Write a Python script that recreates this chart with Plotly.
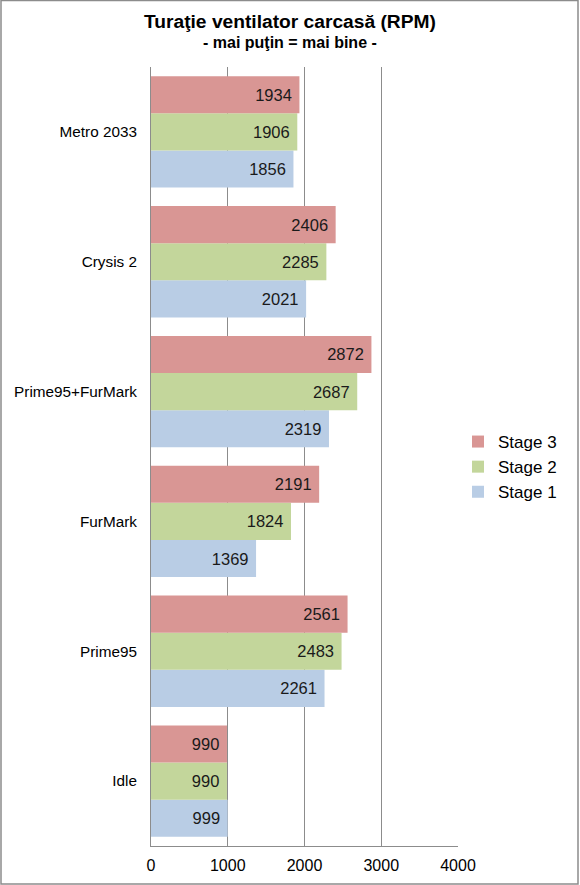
import plotly.graph_objects as go

# categories listed bottom -> top (plotly draws the first category at the bottom)
categories = ["Idle", "Prime95", "FurMark", "Prime95+FurMark", "Crysis 2", "Metro 2033"]
stage1 = [999, 2261, 1369, 2319, 2021, 1856]
stage2 = [990, 2483, 1824, 2687, 2285, 1906]
stage3 = [990, 2561, 2191, 2872, 2406, 1934]
x_ticks = [0, 1000, 2000, 3000, 4000]

FONT = "Liberation Sans, Arial, sans-serif"
W, H = 580, 885
L, R, T, B = 151, 122, 67, 39

series = [
    ("Stage 1", stage1, "#B9CDE5"),
    ("Stage 2", stage2, "#C3D69B"),
    ("Stage 3", stage3, "#D99694"),
]

fig = go.Figure()
for name, vals, color in series:
    fig.add_trace(go.Bar(
        name=name, y=categories, x=vals, orientation="h",
        marker=dict(color=color, line=dict(width=0)),
        texttemplate="%{x}\u00a0", textposition="inside",
        insidetextanchor="end", textangle=0,
        textfont=dict(family=FONT, size=16.5, color="#1a1a1a"),
        cliponaxis=False,
    ))

pw = W - L - R
ph = H - T - B


def py(px_from_top):
    # pixel row (from top of figure) -> paper y
    return (H - B - px_from_top) / ph


fig.update_layout(
    width=W, height=H,
    margin=dict(l=L, r=R, t=T, b=B, autoexpand=False),
    paper_bgcolor="white", plot_bgcolor="white",
    barmode="group", bargap=0.143, bargroupgap=0,
    font=dict(family=FONT, size=15, color="#000000"),
    legend=dict(
        traceorder="reversed", x=1.0, xanchor="left", y=py(467), yanchor="middle",
        font=dict(family=FONT, size=17, color="#000000"),
        itemwidth=30, bgcolor="rgba(0,0,0,0)", tracegroupgap=0,
    ),
    xaxis=dict(
        range=[0, 4000], tickvals=x_ticks, showgrid=True, gridcolor="#8c8c8c",
        gridwidth=1, showline=True, linecolor="#8c8c8c", zeroline=False,
        ticks="", tickfont=dict(family=FONT, size=16), ticklabelstandoff=5,
        automargin=False,
    ),
    yaxis=dict(
        categoryorder="array", categoryarray=categories,
        showline=True, linecolor="#8c8c8c", ticks="", automargin=False,
        tickfont=dict(family=FONT, size=15.3), showgrid=False,
        ticklabelstandoff=10,
    ),
    annotations=[
        dict(text="<b>Turaţie ventilator carcasă (RPM)</b>", xref="paper", yref="paper",
             x=(W / 2 - L) / pw, y=py(21), xanchor="center", yanchor="middle",
             showarrow=False, font=dict(family=FONT, size=19.2, color="#000000")),
        dict(text="<b>- mai puţin = mai bine -</b>", xref="paper", yref="paper",
             x=(W / 2 - L) / pw, y=py(43), xanchor="center", yanchor="middle",
             showarrow=False, font=dict(family=FONT, size=16, color="#000000")),
    ],
    shapes=[dict(
        type="rect", xref="paper", yref="paper",
        x0=(1 - L) / pw, x1=(W - 2 - L) / pw,
        y0=-(B - 1) / ph, y1=(ph + T - 0.5) / ph,
        line=dict(color="#8c8c8c", width=1.5), fillcolor="rgba(0,0,0,0)",
        layer="above",
    )],
)

# the page's default body margin would shift the fixed-size figure
fig.write_html("out.html", config={"displayModeBar": False},
               post_script="document.body.style.margin='0';")
